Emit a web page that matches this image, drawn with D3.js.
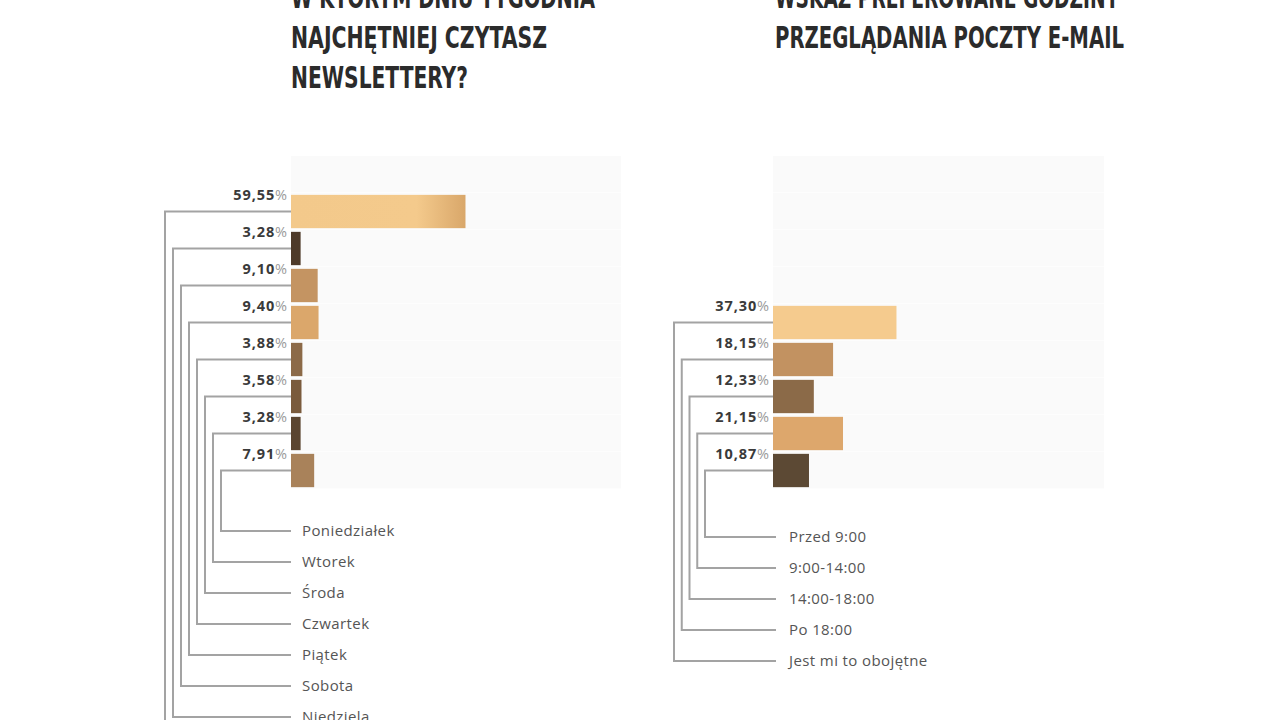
<!DOCTYPE html>
<html>
<head>
<meta charset="utf-8">
<script src="https://cdn.jsdelivr.net/npm/d3@7"></script>
<style>
  html, body { margin: 0; padding: 0; background: #ffffff; overflow: hidden; }
  svg { display: block; }
</style>
</head>
<body>
<svg id="chart" width="1280" height="720"></svg>
<script>
// ---------- DATA ----------
const dayTitle = ["W KTÓRYM DNIU TYGODNIA", "NAJCHĘTNIEJ CZYTASZ", "NEWSLETTERY?"];
const dayCategories = ["Jest mi to obojętne", "Niedziela", "Sobota", "Piątek", "Czwartek", "Środa", "Wtorek", "Poniedziałek"];
const dayValues = [59.55, 3.28, 9.10, 9.40, 3.88, 3.58, 3.28, 7.91];
const dayColors = ["#f3c98b", "#4e3a29", "#c49462", "#dba76b", "#8c6a48", "#7a5b3c", "#5b4530", "#a9825a"];

const hourTitle = ["WSKAŻ PREFEROWANE GODZINY", "PRZEGLĄDANIA POCZTY E-MAIL"];
const hourCategories = ["Jest mi to obojętne", "Po 18:00", "14:00-18:00", "9:00-14:00", "Przed 9:00"];
const hourValues = [37.30, 18.15, 12.33, 21.15, 10.87];
const hourColors = ["#f5cb8e", "#c29261", "#8b6a48", "#dda76c", "#5c4934"];

// ---------- DRAW ----------
const svg = d3.select("#chart");
const defs = svg.append("defs");
const grad = defs.append("linearGradient").attr("id", "g0").attr("x1", "0%").attr("x2", "100%");
grad.append("stop").attr("offset", "0%").attr("stop-color", "#f3c98b");
grad.append("stop").attr("offset", "72%").attr("stop-color", "#f4ca8c");
grad.append("stop").attr("offset", "100%").attr("stop-color", "#d9a76a");

const fmt = v => v.toFixed(2).replace(".", ",");

function drawChart(cfg) {
  const g = svg.append("g");
  const n = cfg.categories.length;
  const slots = d3.range(9);
  const firstSlot = 9 - n;

  const x = d3.scaleLinear().domain([0, 100]).range([cfg.x0, cfg.x0 + cfg.pxPer100]);
  const y = d3.scaleBand().domain(slots).range([156, 489]).paddingInner(0.1).paddingOuter(0.05);
  const step = y.step();

  // title
  g.append("g").selectAll("text").data(cfg.title).join("text")
    .attr("x", cfg.x0 + cfg.titleDx)
    .attr("y", (d, i) => cfg.titleY0 + i * 40)
    .attr("textLength", (d, i) => cfg.titleWidths[i])
    .attr("lengthAdjust", "spacingAndGlyphs")
    .style("font-family", "'DejaVu Sans Condensed', 'Liberation Sans Narrow', sans-serif")
    .style("font-weight", "bold")
    .style("font-size", "31px")
    .style("fill", "#2b2b2b")
    .text(d => d);

  // background panel rows
  g.append("g").selectAll("rect").data(slots).join("rect")
    .attr("x", cfg.x0)
    .attr("y", d => y(d) - (step - y.bandwidth()) / 2)
    .attr("width", cfg.panelW)
    .attr("height", step - 0.6)
    .attr("fill", "#fafafa");

  const rows = cfg.categories.map((c, i) => ({ cat: c, val: cfg.values[i], color: cfg.colors[i], slot: firstSlot + i, i }));

  // connector positions
  const vx = d3.scalePoint().domain(cfg.categories).range(cfg.vxRange);
  const labelOrder = cfg.categories.slice().reverse();
  const ly = d3.scalePoint().domain(labelOrder).range(cfg.labelYRange);

  g.append("g").selectAll("path").data(rows).join("path")
    .attr("d", d => {
      const yb = y(d.slot) + y.bandwidth() / 2;
      return `M${cfg.x0},${yb}H${vx(d.cat)}V${ly(d.cat)}H${cfg.x0 + cfg.lineEndDx}`;
    })
    .attr("fill", "none")
    .attr("stroke", "#a3a3a3")
    .attr("stroke-width", 2);

  // bars
  g.append("g").selectAll("rect").data(rows).join("rect")
    .attr("x", x(0))
    .attr("y", d => y(d.slot))
    .attr("width", d => x(d.val) - x(0))
    .attr("height", y.bandwidth())
    .attr("fill", d => (d.i === 0 && cfg.gradFirst) ? "url(#g0)" : d.color);

  // value labels
  const vl = g.append("g").selectAll("text").data(rows).join("text")
    .attr("x", x(0) - 3)
    .attr("y", d => y(d.slot) + 5)
    .attr("text-anchor", "end")
    .style("font-family", "'Open Sans', sans-serif")
    .style("font-size", "14.5px")
    .style("letter-spacing", "0.9px");
  vl.append("tspan").style("font-weight", "bold").style("fill", "#3a3a3a").text(d => fmt(d.val));
  vl.append("tspan").style("fill", "#9a9a9a").text("%");

  // category labels
  g.append("g").selectAll("text").data(rows).join("text")
    .attr("x", cfg.x0 + cfg.labelDx)
    .attr("y", d => ly(d.cat) + 5)
    .style("font-family", "'Open Sans', sans-serif")
    .style("font-size", "15px")
    .style("letter-spacing", "0.4px")
    .style("fill", "#555555")
    .text(d => d.cat);
}

drawChart({
  title: dayTitle, titleY0: 8, titleWidths: [304, 256, 177], titleDx: 0,
  categories: dayCategories, values: dayValues, colors: dayColors, gradFirst: true,
  x0: 291, pxPer100: 293, panelW: 330,
  vxRange: [165, 221], labelYRange: [531, 748], lineEndDx: 0, labelDx: 11
});

drawChart({
  title: hourTitle, titleY0: 8, titleWidths: [344, 349], titleDx: 2,
  categories: hourCategories, values: hourValues, colors: hourColors, gradFirst: false,
  x0: 773, pxPer100: 331, panelW: 331,
  vxRange: [674, 705], labelYRange: [537, 661], lineEndDx: 3, labelDx: 16
});
</script>
</body>
</html>
